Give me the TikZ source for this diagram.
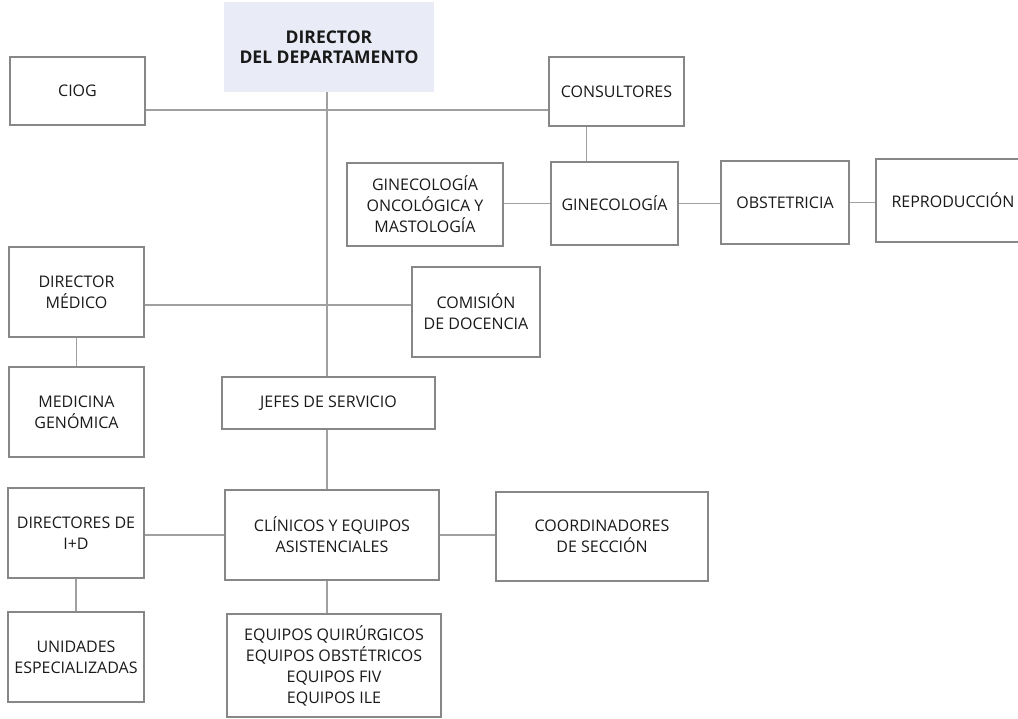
\documentclass[tikz,border=0pt]{standalone}
\usepackage{fontspec}
\setmainfont{Open Sans}
\usepackage{tikz}
\usetikzlibrary{calc}
\definecolor{boxline}{RGB}{135,135,135}
\definecolor{linkline}{RGB}{160,160,160}
\definecolor{headfill}{RGB}{233,236,247}
\definecolor{txt}{RGB}{25,25,25}

\begin{document}
\begin{tikzpicture}[
    x=1pt, y=-1pt,
    unit/.style={rectangle, draw=boxline, line width=1.3pt, align=center, text=txt, inner sep=0pt, font=\fontsize{16}{21}\selectfont},
    head/.style={rectangle, fill=headfill, align=center, text=txt, inner sep=0pt, font=\fontsize{17.5}{20.5}\selectfont\bfseries},
    link/.style={draw=linkline, line width=1.3pt}
]
\clip (0,0) rectangle (1018,719);

\node[head, minimum width=210pt, minimum height=90pt] (dir) at (329,47) {DIRECTOR\\ DEL DEPARTAMENTO};

\node[unit, minimum width=135pt, minimum height=68pt] (ciog) at (77.5,91) {CIOG};
\node[unit, minimum width=135pt, minimum height=69pt] (cons) at (616.5,91.5) {CONSULTORES};
\node[unit, minimum width=156pt, minimum height=83pt] (gonc) at (425,204.5) {GINECOLOGÍA\\ ONCOLÓGICA Y\\ MASTOLOGÍA};
\node[unit, minimum width=127pt, minimum height=83pt] (gin) at (614.5,203.5) {GINECOLOGÍA};
\node[unit, minimum width=128pt, minimum height=83pt] (obs) at (785,202.5) {OBSTETRICIA};
\node[unit, minimum width=154pt, minimum height=83pt] (repro) at (953,200.5) {REPRODUCCIÓN};

\node[unit, minimum width=135pt, minimum height=90pt] (dmed) at (76.5,292) {DIRECTOR\\ MÉDICO};
\node[unit, minimum width=128pt, minimum height=90pt] (docen) at (476,312) {COMISIÓN\\ DE DOCENCIA};
\node[unit, minimum width=135pt, minimum height=90pt] (genom) at (76.5,412) {MEDICINA\\ GENÓMICA};
\node[unit, minimum width=213pt, minimum height=52pt] (jefes) at (328.5,403) {JEFES DE SERVICIO};

\node[unit, minimum width=136pt, minimum height=90pt] (idir) at (76,533) {DIRECTORES DE\\ I+D};
\node[unit, minimum width=214pt, minimum height=90pt] (clin) at (332,535) {CLÍNICOS Y EQUIPOS\\ ASISTENCIALES};
\node[unit, minimum width=212pt, minimum height=89pt] (coord) at (602,536.5) {COORDINADORES\\ DE SECCIÓN};
\node[unit, minimum width=136pt, minimum height=90pt] (unid) at (76,657) {UNIDADES\\ ESPECIALIZADAS};
\node[unit, minimum width=214pt, minimum height=103pt] (equip) at (334,665.5) {EQUIPOS QUIRÚRGICOS\\ EQUIPOS OBSTÉTRICOS\\ EQUIPOS FIV\\ EQUIPOS ILE};

% main trunk
\draw[link] ([xshift=-2pt]dir.south) -- ([xshift=-2pt]dir.south |- jefes.north);
\draw[link] ([xshift=-1.5pt]jefes.south) -- ([xshift=-1.5pt]jefes.south |- clin.north);
\draw[link] ([xshift=-1.5pt]jefes.south |- clin.south) -- ([xshift=-1.5pt]jefes.south |- equip.north);

% side branches
\draw[link] ([yshift=-19pt]ciog.east) -- ([yshift=-19pt]ciog.east -| cons.west);
\draw[link] ([xshift=-28pt]gin.north) -- ([xshift=-28pt]gin.north |- cons.south);
\draw[link] (gonc.east |- gin.west) -- (gin.west);
\draw[link] (gin.east) -- (gin.east -| obs.west);
\draw[link] (obs.east) -- (obs.east -| repro.west);
\draw[link] ([yshift=-13pt]dmed.east) -- ([yshift=-13pt]dmed.east -| docen.west);
\draw[link] (dmed.south) -- (dmed.south |- genom.north);
\draw[link] (idir.east |- clin.west) -- (clin.west);
\draw[link] (clin.east) -- (clin.east -| coord.west);
\draw[link] (idir.south) -- (idir.south |- unid.north);
\end{tikzpicture}
\end{document}
